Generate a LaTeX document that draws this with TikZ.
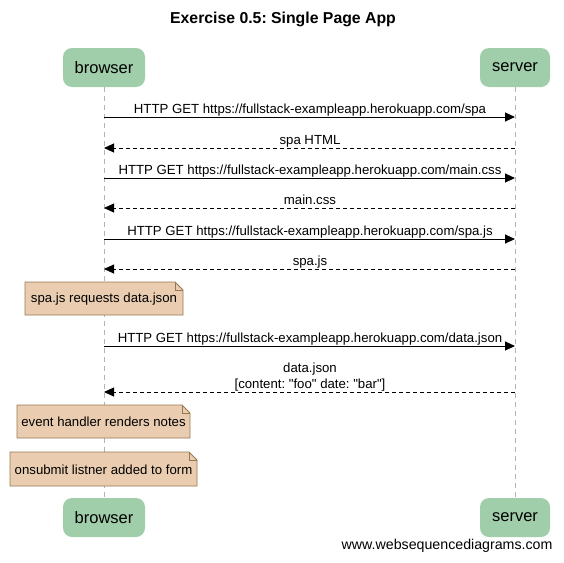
\documentclass[tikz,border=0pt]{standalone}
\usepackage{fontspec}
\setmainfont{Liberation Sans}[Ligatures=TeXOff]
\frenchspacing
\usetikzlibrary{arrows.meta}
\definecolor{actorfill}{RGB}{160,206,170}
\definecolor{notefill}{RGB}{234,205,176}
\definecolor{notedraw}{RGB}{150,120,80}
\definecolor{lifegray}{RGB}{180,180,180}
\tikzset{
  actor/.style={fill=actorfill, rounded corners=9pt, minimum height=39pt, inner sep=0pt, font=\fontsize{16.5}{18}\selectfont},
  msg/.style={-{Triangle[length=10pt,width=9pt]}, line width=0.9pt},
  ret/.style={msg, dash pattern=on 4pt off 3pt},
  lbl/.style={font=\fontsize{13.2}{15}\selectfont, inner sep=0pt, anchor=base},
  lifeline/.style={lifegray, dash pattern=on 5pt off 4pt, line width=0.8pt},
}
\newcommand{\notebox}[5]{%
  \fill[notefill] (#2,#3) -- (#4-8,#3) -- (#4,#3+8) -- (#4,#5) -- (#2,#5) -- cycle;
  \draw[notedraw, line width=0.8pt] (#2,#3) -- (#4-8,#3) -- (#4,#3+8) -- (#4,#5) -- (#2,#5) -- cycle;
  \draw[notedraw, line width=0.8pt] (#4-8,#3) -- (#4-8,#3+8) -- (#4,#3+8);
  \coordinate (#1) at ({(#2+#4)/2},{(#3+#5)/2});
}
\begin{document}
\begin{tikzpicture}[x=1pt,y=-1pt]
\useasboundingbox (0,0) rectangle (564,562);
\node[font=\bfseries\fontsize{15.8}{18}\selectfont] (title) at (283,19) {Exercise 0.5: Single Page App};
% actors
\node[actor, minimum width=82pt] (bt) at (104,67.5) {browser};
\node[actor, minimum width=70pt] (st) at (515,67.5) {server};
\node[actor, minimum width=82pt] (bb) at (104,517.5) {browser};
\node[actor, minimum width=70pt] (sb) at (515,517.5) {server};
\draw[lifeline] (bt.south) -- (bb.north);
\draw[lifeline] (st.south) -- (sb.north);
% message coordinates
\foreach \n/\y in {1/117,2/148,3/178,4/208,5/239,6/269,7/346,8/392}{
  \coordinate (b\n) at (104,\y);
  \coordinate (s\n) at (515,\y);
}
\draw[msg] (b1) -- (s1);
\node[lbl] (l1) at (310,113) {HTTP GET https://fullstack-exampleapp.herokuapp.com/spa};
\draw[ret] (s2) -- (b2);
\node[lbl] (l2) at (310,144) {spa HTML};
\draw[msg] (b3) -- (s3);
\node[lbl] (l3) at (310,174) {HTTP GET https://fullstack-exampleapp.herokuapp.com/main.css};
\draw[ret] (s4) -- (b4);
\node[lbl] (l4) at (310,204) {main.css};
\draw[msg] (b5) -- (s5);
\node[lbl] (l5) at (310,235) {HTTP GET https://fullstack-exampleapp.herokuapp.com/spa.js};
\draw[ret] (s6) -- (b6);
\node[lbl] (l6) at (310,265) {spa.js};
\notebox{n1}{25}{282}{183}{315}
\node[lbl, anchor=center] (t1) at ([yshift=-0.5pt]n1) {spa.js requests data.json};
\draw[msg] (b7) -- (s7);
\node[lbl] (l7) at (310,342) {HTTP GET https://fullstack-exampleapp.herokuapp.com/data.json};
\draw[ret] (s8) -- (b8);
\node[lbl] (l8a) at (310,372) {data.json};
\node[lbl] (l8b) at (310,388) {[content: "foo" date: "bar"]};
\notebox{n2}{17}{405}{190}{438}
\node[lbl, anchor=center] (t2) at ([yshift=-0.5pt]n2) {event handler renders notes};
\notebox{n3}{10}{452}{197}{486}
\node[lbl, anchor=center] (t3) at ([yshift=-0.5pt]n3) {onsubmit listner added to form};
\node[font=\fontsize{14.2}{16}\selectfont, anchor=east] (foot) at (556,546) {www.websequencediagrams.com};
\end{tikzpicture}
\end{document}
